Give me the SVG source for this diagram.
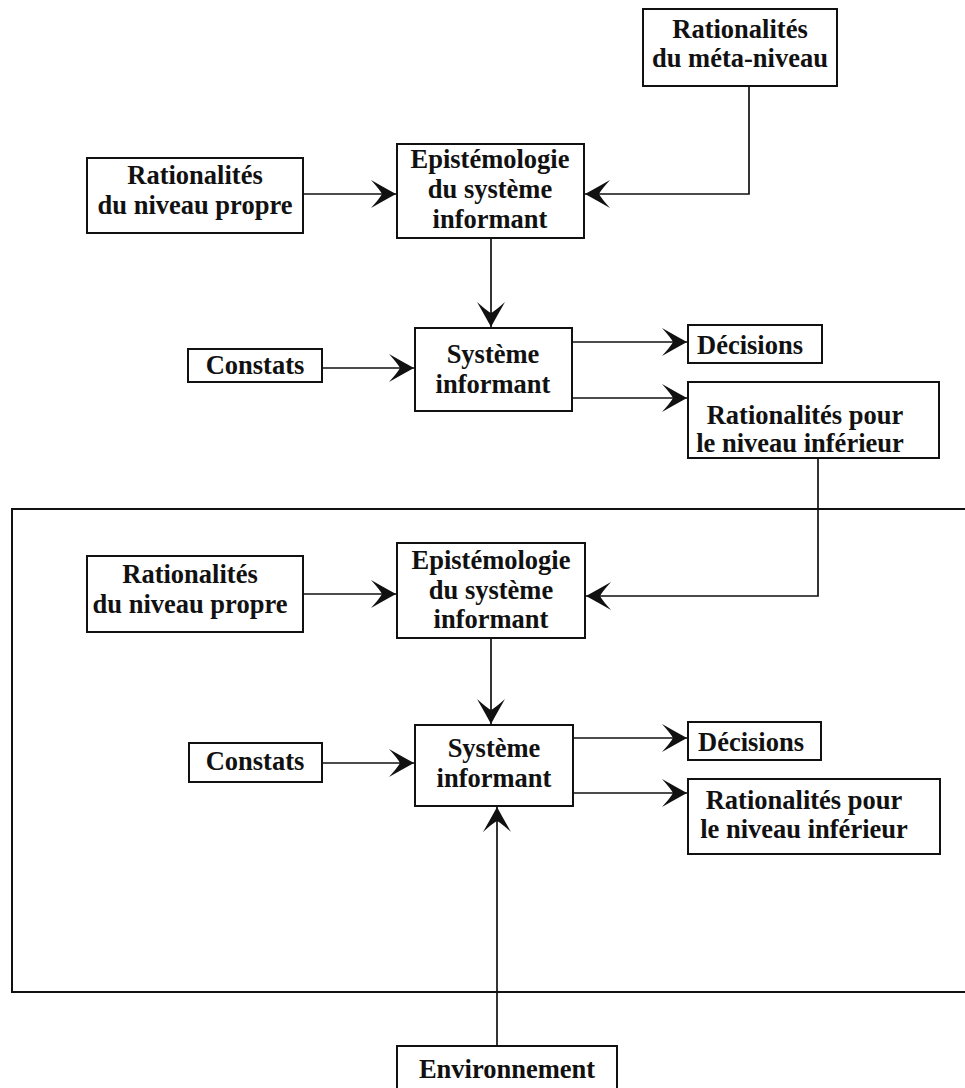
<svg xmlns="http://www.w3.org/2000/svg" width="965" height="1088" viewBox="0 0 965 1088">
<style>
.box{fill:#fff;stroke:#111;stroke-width:2}
.frame{fill:none;stroke:#111;stroke-width:2}
.t{font-family:"Liberation Serif","Times New Roman",serif;font-size:26.5px;font-weight:bold;fill:#111;text-anchor:middle}
.tl{text-anchor:start}
.c{fill:none;stroke:#111;stroke-width:1.7}
</style>
<defs>
<marker id="ah" viewBox="-28 -16 30 32" markerWidth="30" markerHeight="32" refX="0" refY="0" orient="auto" markerUnits="userSpaceOnUse">
<path d="M0,0 Q-11,-6 -25,-14 Q-16,-4 -14,0 Q-16,4 -25,14 Q-11,6 0,0 Z" fill="#111"/>
</marker>
</defs>
<rect class="frame" x="12" y="509" width="970" height="483"/>
<g id="connectors">
<path class="c" d="M303,194 L396,194" marker-end="url(#ah)"/>
<path class="c" d="M749,86 L749,194 L585,194" marker-end="url(#ah)"/>
<path class="c" d="M491,238 L491,327" marker-end="url(#ah)"/>
<path class="c" d="M322,368 L414,368" marker-end="url(#ah)"/>
<path class="c" d="M572,342 L687,342" marker-end="url(#ah)"/>
<path class="c" d="M572,398 L687,398" marker-end="url(#ah)"/>
<path class="c" d="M818,458 L818,596 L586,596" marker-end="url(#ah)"/>
<path class="c" d="M303,594 L396,594" marker-end="url(#ah)"/>
<path class="c" d="M491,638 L491,724" marker-end="url(#ah)"/>
<path class="c" d="M322,763 L414,763" marker-end="url(#ah)"/>
<path class="c" d="M573,738 L687,738" marker-end="url(#ah)"/>
<path class="c" d="M573,793 L687,793" marker-end="url(#ah)"/>
<path class="c" d="M497,1046 L497,807" marker-end="url(#ah)"/>
</g>
<g id="meta">
<rect class="box" x="643" y="9" width="194" height="77"/>
<text class="t" x="740" y="38">Rationalités</text>
<text class="t" x="740" y="67">du méta-niveau</text>
</g>
<g id="propre1">
<rect class="box" x="87" y="158" width="216" height="75"/>
<text class="t" x="195" y="184">Rationalités</text>
<text class="t" x="195" y="214">du niveau propre</text>
</g>
<g id="epist1">
<rect class="box" x="397" y="144" width="187" height="94"/>
<text class="t" x="490" y="168">Epistémologie</text>
<text class="t" x="490" y="198">du système</text>
<text class="t" x="490" y="228">informant</text>
</g>
<g id="constats1">
<rect class="box" x="188" y="349" width="134" height="33"/>
<text class="t" x="255" y="374">Constats</text>
</g>
<g id="systeme1">
<rect class="box" x="415" y="328" width="157" height="83"/>
<text class="t" x="493" y="363">Système</text>
<text class="t" x="493" y="393">informant</text>
</g>
<g id="decisions1">
<rect class="box" x="688" y="325" width="134" height="38"/>
<text class="t tl" x="697" y="354">Décisions</text>
</g>
<g id="ratinf1">
<rect class="box" x="688" y="382" width="251" height="76"/>
<text class="t" x="805" y="424">Rationalités pour</text>
<text class="t" x="800" y="452">le niveau inférieur</text>
</g>
<g id="propre2">
<rect class="box" x="87" y="556" width="216" height="76"/>
<text class="t" x="190" y="583">Rationalités</text>
<text class="t" x="190" y="613">du niveau propre</text>
</g>
<g id="epist2">
<rect class="box" x="397" y="543" width="188" height="95"/>
<text class="t" x="491" y="569">Epistémologie</text>
<text class="t" x="491" y="599">du système</text>
<text class="t" x="491" y="628">informant</text>
</g>
<g id="constats2">
<rect class="box" x="189" y="743" width="133" height="39"/>
<text class="t" x="255" y="770">Constats</text>
</g>
<g id="systeme2">
<rect class="box" x="415" y="725" width="158" height="81"/>
<text class="t" x="494" y="757">Système</text>
<text class="t" x="494" y="787">informant</text>
</g>
<g id="decisions2">
<rect class="box" x="688" y="722" width="133" height="38"/>
<text class="t tl" x="698" y="751">Décisions</text>
</g>
<g id="ratinf2">
<rect class="box" x="688" y="779" width="252" height="75"/>
<text class="t" x="804" y="809">Rationalités pour</text>
<text class="t" x="804" y="838">le niveau inférieur</text>
</g>
<g id="environnement">
<rect class="box" x="397" y="1046" width="220" height="46"/>
<text class="t" x="507" y="1078">Environnement</text>
</g>
</svg>
